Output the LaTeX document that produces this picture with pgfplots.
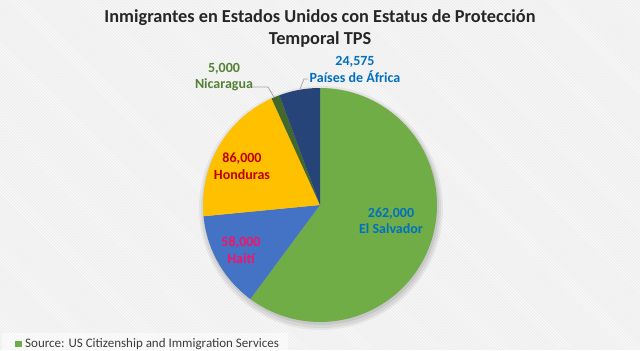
\documentclass[border=0pt]{standalone}
\usepackage{pgfplots}
\pgfplotsset{compat=1.18}
\usepackage{fontspec}
\setmainfont{Carlito}
\usetikzlibrary{patterns}
\definecolor{cES}{HTML}{70AD47}
\definecolor{cHA}{HTML}{4472C4}
\definecolor{cHO}{HTML}{FFC000}
\definecolor{cNI}{HTML}{43682B}
\definecolor{cAF}{HTML}{264478}
\definecolor{tBlue}{HTML}{0070C0}
\definecolor{tGreen}{HTML}{548235}
\definecolor{tRed}{HTML}{C00000}
\definecolor{tPink}{HTML}{F5126A}
\definecolor{tTitle}{HTML}{262626}
\definecolor{bg}{HTML}{EEEEEE}
% data
\def\vES{262000}
\def\vHA{58000}
\def\vHO{86000}
\def\vNI{5000}
\def\vAF{24575}
\edef\tot{\fpeval{\vES+\vHA+\vHO+\vNI+\vAF}}
\edef\aA{90}
\edef\aB{\fpeval{round(\aA-\vES/\tot*360,4)}}
\edef\aC{\fpeval{round(\aB-\vHA/\tot*360,4)}}
\edef\aD{\fpeval{round(\aC-\vHO/\tot*360,4)}}
\edef\aE{\fpeval{round(\aD-\vNI/\tot*360,4)}}
\edef\aF{\fpeval{round(\aE-\vAF/\tot*360,4)}}
\newcommand{\slice}[3]{%
  \addplot[fill=#3, draw=none, data cs=polar, domain=#1:#2, samples=90, variable=\t]
    ({\t},{117}) -- (axis cs:0,0) -- cycle;}
\begin{document}
\begin{tikzpicture}
\begin{axis}[scale only axis, width=640bp, height=350bp,
  xmin=-320, xmax=320, ymin=-145, ymax=205, hide axis, clip=false]
\fill[bg] (axis cs:-320,-145) rectangle (axis cs:320,205);
\fill[pattern=north west lines, pattern color=white] (axis cs:-320,-145) rectangle (axis cs:320,205);
\fill[white, opacity=0.5] (axis cs:-318,-145) rectangle (axis cs:-32,-128);
% shadow
\fill[black, opacity=0.05] (axis cs:1,-3) circle [radius=122];
\fill[black, opacity=0.06] (axis cs:1,-3) circle [radius=120];
\fill[black, opacity=0.07] (axis cs:1,-2) circle [radius=118];
% slices
\slice{\aA}{\aB}{cES}
\slice{\aB}{\aC}{cHA}
\slice{\aC}{\aD}{cHO}
\slice{\aD}{\aE}{cNI}
\slice{\aE}{\aF}{cAF}
% title
\node[text=tTitle, font=\fontsize{18.3bp}{22bp}\selectfont\bfseries, align=center] at (axis cs:0,176)
  {Inmigrantes en Estados Unidos con Estatus de Protección\\Temporal TPS};
% labels
\tikzset{lbl/.style={font=\fontsize{14bp}{16.5bp}\selectfont\bfseries, align=center}}
\node[lbl, text=tBlue] at (axis cs:35,135.5) {24,575\\Países de África};
\node[lbl, text=tGreen] at (axis cs:-96,128) {5,000\\Nicaragua};
\node[lbl, text=tRed] at (axis cs:-78,39) {86,000\\Honduras};
\node[lbl, text=tPink] at (axis cs:-79,-45) {58,000\\Haití};
\node[lbl, text=tBlue] at (axis cs:71,-16) {262,000\\El Salvador};
% leader lines
\draw[gray!70, line width=0.8bp] (axis cs:-68,118) -- (axis cs:-52,118) -- (axis cs:-46,108);
\draw[gray!70, line width=0.8bp] (axis cs:-12,126) -- (axis cs:-16,126) -- (axis cs:-20,116);
% legend
\fill[cES] (axis cs:-305,-136) rectangle (axis cs:-298,-142);
\node[anchor=west, text=tTitle!90, font=\fontsize{13bp}{15bp}\selectfont, inner sep=0pt] at (axis cs:-295,-139.5)
  {Source: US Citizenship and Immigration Services};
\end{axis}
\end{tikzpicture}
\end{document}
